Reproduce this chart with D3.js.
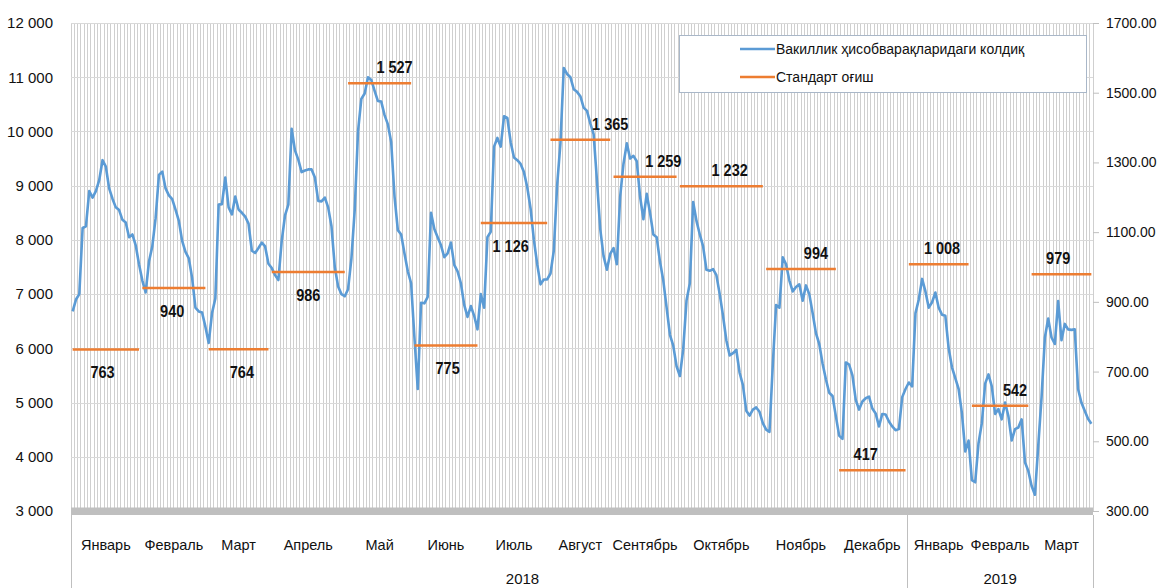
<!DOCTYPE html>
<html>
<head>
<meta charset="utf-8">
<script src="https://cdn.jsdelivr.net/npm/d3@7"></script>
<style>
  html, body { margin: 0; padding: 0; background: #fff; }
  svg { display: block; font-family: "Liberation Sans", Arial, sans-serif; }
</style>
</head>
<body>
<svg id="chart" width="1160" height="588"></svg>
<script>
// ---------- DATA ----------
const months = ["Январь","Февраль","Март","Апрель","Май","Июнь","Июль","Август","Сентябрь","Октябрь","Ноябрь","Декабрь","Январь","Февраль","Март"];
const monthYear = ["2018","2018","2018","2018","2018","2018","2018","2018","2018","2018","2018","2018","2019","2019","2019"];
const years = ["2018","2019"];

// Daily balances on correspondent accounts (left axis), one array per month
const jan18 = [6680,6900,7000,8220,8250,8900,8780,8900,9100,9470,9350,8950,8760,8600,8550,8370,8320,8050,8100,7900,7550];
const feb18 = [7250,7030,7600,7880,8400,9200,9260,8950,8820,8750,8560,8350,7980,7780,7660,7300,6750,6680,6660,6400];
const mar18 = [6100,6650,6920,8650,8660,9150,8600,8470,8800,8560,8500,8430,8300,7800,7760,7850,7950,7880,7560];
const apr18 = [7480,7350,7260,7980,8450,8650,10050,9650,9480,9250,9280,9300,9300,9150,8720,8710,8780,8600,8250,7500,7140,7000,6960];
const may18 = [7090,7650,8550,10000,10600,10700,11000,10950,10750,10560,10550,10300,10130,9800,8800,8180,8100,7750,7420,7200];
const jun18 = [6200,5250,6840,6830,6950,8500,8200,8050,7900,7680,7750,7950,7540,7420,7200,6800,6580,6780,6600,6350];
const jul18 = [7000,6750,8050,8150,9720,9880,9720,10280,10250,9800,9520,9470,9400,9250,8970,8580,8000,7550,7180,7270,7270];
const aug18 = [7380,7800,9000,9780,11170,11060,11000,10780,10730,10650,10440,10380,10150,9950,9100,8200,7700,7450,7740];
const sep18 = [7850,7550,8800,9400,9780,9500,9550,9450,8800,8380,8850,8500,8100,8050,7600,7250,6750,6250,6050,5670];
const oct18 = [5490,5980,6880,7200,8700,8350,8100,7880,7450,7430,7460,7350,7000,6600,6150,5870,5910,5970,5550,5320,4850,4760,4870,4910,4830,4620];
const nov18 = [4500,4460,5700,6800,6750,7680,7550,7250,7050,7130,7180,6880,7160,7000,6650,6280,6080,5720,5430,5180,5120,4750];
const dec18 = [4390,4330,5740,5700,5500,5050,4870,5020,5080,5110,4890,4800,4560,4790,4780,4650,4560,4490,4510,5100,5250];
const jan19 = [5370,5300,6650,6900,7280,7050,6750,6850,7030,6750,6620,6600,6000,5650,5450,5250,4800,4100,4300];
const feb19 = [3570,3530,4250,4620,5350,5520,5300,4790,4880,4690,5000,4750,4300,4510,4540,4690,3900,3740];
const mar19 = [3460,3300,4200,5100,6200,6550,6200,6080,6870,6150,6450,6350,6340,6350,5250,5000,4850,4700,4610];

// Monthly standard deviation (right axis) as drawn in the picture
const stdDev = [763,940,764,986,1527,775,1126,1365,1259,1232,994,417,1008,602,979];
// Values printed in the labels (the February 2019 segment sits near 600 while its label reads 542)
const stdDevLabels = [763,940,764,986,1527,775,1126,1365,1259,1232,994,417,1008,542,979];
// Which day of the month carries the label, and on which side of the segment
const labelDay = [9,9,10,11,14,10,9,18,15,15,15,8,10,13,8];
const labelSide = ["below","below","below","below","above","below","below","above","above","above","above","above","above","above","above"];

const leftTicks = [3000,4000,5000,6000,7000,8000,9000,10000,11000,12000];
const rightTicks = [300,500,700,900,1100,1300,1500,1700];

const seriesNames = ["Вакиллик ҳисобварақларидаги колдиқ", "Стандарт оғиш"];

// ---------- BUILD ----------
const monthly = [jan18,feb18,mar18,apr18,may18,jun18,jul18,aug18,sep18,oct18,nov18,dec18,jan19,feb19,mar19];
const points = [];
const monthRanges = [];
monthly.forEach((arr, m) => {
  const start = points.length;
  arr.forEach((v, d) => points.push({i: points.length, m, d, v}));
  monthRanges.push({m, start, end: points.length - 1});
});
const N = points.length;

const svg = d3.select("#chart");
const L = 71, R = 1093, T = 23, B = 511;

const x = d3.scaleBand().domain(d3.range(N)).range([L, R]).paddingInner(0).paddingOuter(0);
const bw = x.bandwidth();
const cx = i => x(i) + bw / 2;
const yL = d3.scaleLinear().domain([3000, 12000]).range([B, T]);
const yR = d3.scaleLinear().domain([300, 1700]).range([B, T]);

const grid = "#d9d9d9";
const vgrid = "#cfcfcf";
const sepColor = "#bfbfbf";
const blue = "#5b9bd5";
const orange = "#ed7d31";
const fmtSpace = d => d3.format(",")(d).replace(/,/g, " ");

// vertical gridlines (one per category)
const vx = d3.range(N + 1).map(k => k < N ? x(k) : R);
svg.append("g").attr("shape-rendering", "crispEdges")
  .selectAll("line").data(vx).join("line")
  .attr("x1", d => Math.floor(d) + 0.5).attr("x2", d => Math.floor(d) + 0.5)
  .attr("y1", T).attr("y2", B)
  .attr("stroke", vgrid).attr("stroke-width", 1);

// horizontal gridlines
svg.append("g").attr("shape-rendering", "crispEdges")
  .selectAll("line").data(leftTicks.filter(t => t > 3000)).join("line")
  .attr("x1", L).attr("x2", R)
  .attr("y1", d => Math.round(yL(d)) + 0.5).attr("y2", d => Math.round(yL(d)) + 0.5)
  .attr("stroke", grid).attr("stroke-width", 1);

// category axis band
svg.append("rect").attr("x", L).attr("y", yL(3000) - 3.5).attr("width", R - L).attr("height", 7.5)
  .attr("fill", sepColor);

// separators below the axis (start, year boundary, end)
const yearBoundaries = [L, x(monthRanges[12].start), R];
svg.append("g").selectAll("line").data(yearBoundaries).join("line")
  .attr("x1", d => Math.round(d) + 0.5).attr("x2", d => Math.round(d) + 0.5)
  .attr("y1", yL(3000) + 4).attr("y2", 588)
  .attr("stroke", sepColor).attr("stroke-width", 1);

// left axis
const axL = svg.append("g").attr("transform", `translate(${L},0)`)
  .call(d3.axisLeft(yL).tickValues(leftTicks).tickFormat(fmtSpace).tickSize(0).tickPadding(18));
axL.select(".domain").remove();
axL.selectAll("text").attr("font-size", 15).attr("fill", "#111").attr("font-family", "Liberation Sans, Arial, sans-serif");

// right axis
const axR = svg.append("g").attr("transform", `translate(${R},0)`)
  .call(d3.axisRight(yR).tickValues(rightTicks).tickFormat(d3.format(".2f")).tickSize(6).tickPadding(7));
axR.select(".domain").remove();
axR.selectAll("line").attr("stroke", sepColor);
axR.selectAll("text").attr("font-size", 14).attr("fill", "#111").attr("font-family", "Liberation Sans, Arial, sans-serif");

// balance line
svg.append("path").datum(points)
  .attr("fill", "none").attr("stroke", blue).attr("stroke-width", 2.6)
  .attr("stroke-linejoin", "round")
  .attr("d", d3.line().x(d => cx(d.i)).y(d => yL(d.v)));

// std dev segments
svg.append("g").selectAll("line").data(monthRanges).join("line")
  .attr("x1", d => cx(d.start)).attr("x2", d => cx(d.end))
  .attr("y1", d => yR(stdDev[d.m])).attr("y2", d => yR(stdDev[d.m]))
  .attr("stroke", orange).attr("stroke-width", 2.5);

// std dev labels
svg.append("g").selectAll("text").data(monthRanges).join("text")
  .attr("transform", d => {
    const lx = cx(d.start + labelDay[d.m]);
    const ly = yR(stdDev[d.m]) + (labelSide[d.m] === "below" ? 23 : -16);
    return `translate(${lx},${ly}) scale(1,1.12)`;
  })
  .attr("text-anchor", "middle").attr("dominant-baseline", "central")
  .attr("font-size", 14.5).attr("font-weight", "bold").attr("fill", "#111")
  .text(d => fmtSpace(stdDevLabels[d.m]));

// month labels
svg.append("g").selectAll("text").data(monthRanges).join("text")
  .attr("x", d => (x(d.start) + x(d.end) + bw) / 2)
  .attr("y", 545)
  .attr("text-anchor", "middle").attr("dominant-baseline", "central")
  .attr("font-size", 14.5).attr("fill", "#111")
  .text(d => months[d.m]);

// year labels
const yearSpans = years.map(yv => {
  const ms = monthRanges.filter(r => monthYear[r.m] === yv);
  return {yv, x0: x(ms[0].start), x1: x(ms[ms.length - 1].end) + bw};
});
svg.append("g").selectAll("text").data(yearSpans).join("text")
  .attr("x", d => d.yv === "2018" ? d.x0 + (d.x1 - d.x0) * 0.54 : (d.x0 + d.x1) / 2)
  .attr("y", 578)
  .attr("text-anchor", "middle").attr("dominant-baseline", "central")
  .attr("font-size", 15).attr("fill", "#111")
  .text(d => d.yv);

// legend
const lg = svg.append("g");
lg.append("rect").attr("x", 679.5).attr("y", 35.5).attr("width", 407).attr("height", 57)
  .attr("fill", "#fff").attr("stroke", "#a9b7c8").attr("stroke-width", 1);
[blue, orange].forEach((c, k) => {
  const ly = 49 + k * 28;
  lg.append("line").attr("x1", 740).attr("x2", 775).attr("y1", ly).attr("y2", ly)
    .attr("stroke", c).attr("stroke-width", 2.5);
  lg.append("text").attr("x", 776).attr("y", ly).attr("dominant-baseline", "central")
    .attr("font-size", 14).attr("fill", "#111").text(seriesNames[k]);
});
</script>
</body>
</html>
